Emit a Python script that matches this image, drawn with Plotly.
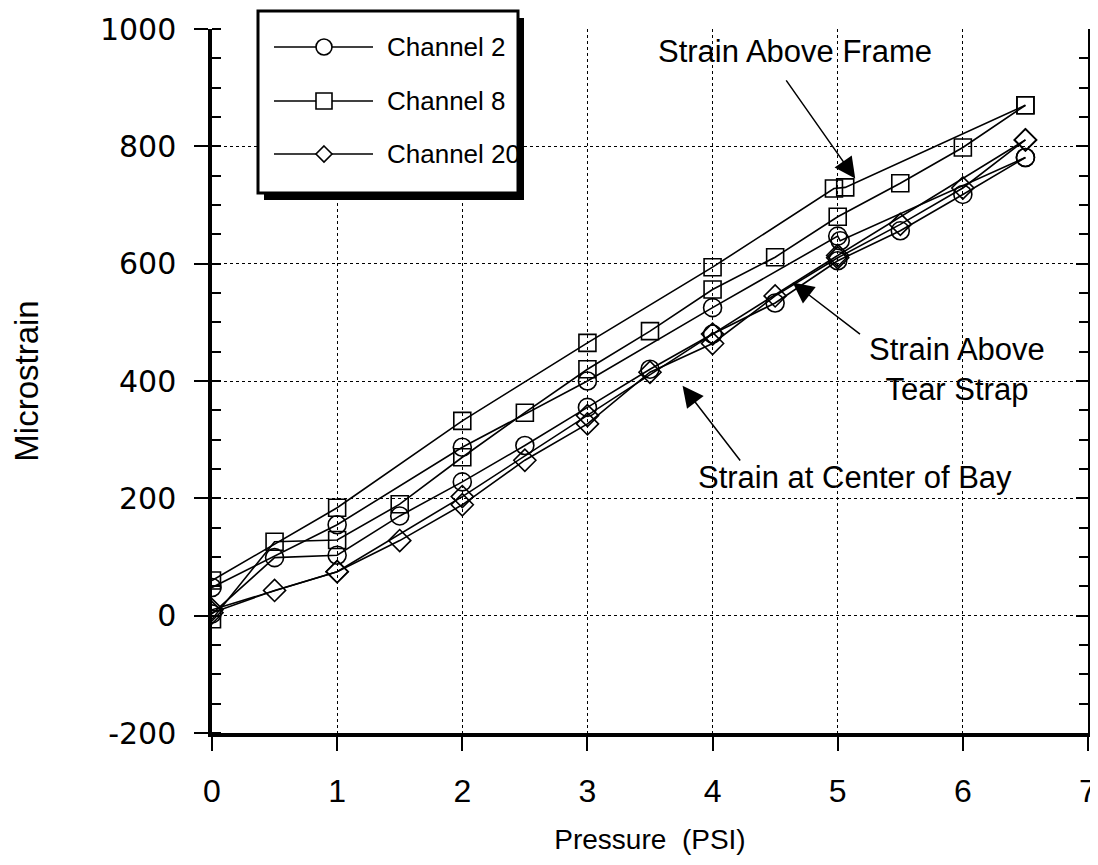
import plotly.graph_objects as go

# ---------------- data ----------------
pressure_run1 = [0, 1, 2, 3, 4, 5, 6.5]
pressure_run2 = [0, 0.5, 1, 1.5, 2, 2.5, 3, 3.5, 4, 4.5, 5, 5.5, 6, 6.5]
pressure_ch8_run1 = [0, 1, 2, 3, 4, 4.97, 5.06, 6.5]
pressure_ch2_run1 = [0, 1, 2, 3, 4, 5, 5.02, 6.5]

ch2_run1 = [48, 155, 287, 400, 525, 647, 639, 781]
ch2_run2 = [3, 99, 103, 170, 228, 290, 355, 420, 480, 533, 605, 656, 718, 781]
ch8_run1 = [60, 184, 332, 465, 594, 728, 730, 870]
ch8_run2 = [-6, 126, 129, 190, 270, 346, 420, 485, 556, 611, 680, 737, 798, 870]
ch20_run1 = [10, 75, 203, 341, 480, 614, 811]
ch20_run2 = [5, 43, 75, 128, 189, 265, 327, 415, 464, 545, 610, 667, 729, 811]

channel_names = ["Channel 2", "Channel 8", "Channel 20"]
x_ticks = [0, 1, 2, 3, 4, 5, 6, 7]
y_ticks = [-200, 0, 200, 400, 600, 800, 1000]
y_tick_text = ["-200", "0", "200", "400", "600", "800", "1000"]

# ---------------- styling ----------------
# the page body adds an 8px margin, so the figure is drawn 8px smaller
# and all screen-space targets are shifted by that amount
OFF = 8
W, H = 1098 - OFF, 865 - OFF
L, R, T, B = 212 - OFF, 10, 29 - OFF, 865 - 733
PW, PH = W - L - R, H - T - B

def pxx(x):
    return (x - OFF - L) / PW

def pxy(y):
    return (H - B - (y - OFF)) / PH

line_style = dict(color="black", width=1.6)
sym = {"Channel 2": ("circle-open", 18), "Channel 8": ("square-open", 17), "Channel 20": ("diamond-open", 17)}

series = [
    ("Channel 2", pressure_ch2_run1, ch2_run1),
    ("Channel 2", pressure_run2, ch2_run2),
    ("Channel 8", pressure_ch8_run1, ch8_run1),
    ("Channel 8", pressure_run2, ch8_run2),
    ("Channel 20", pressure_run1, ch20_run1),
    ("Channel 20", pressure_run2, ch20_run2),
]

fig = go.Figure()
for name, xs, ys in series:
    s, sz = sym[name]
    fig.add_trace(go.Scatter(
        x=xs, y=ys, mode="lines+markers", name=name, showlegend=False,
        line=line_style,
        marker=dict(symbol=s, size=sz, color="black", line=dict(width=1.6, color="black")),
    ))
# right axis carrier
fig.add_trace(go.Scatter(x=[None], y=[None], yaxis="y2", showlegend=False, hoverinfo="skip"))

grid = dict(showgrid=True, gridcolor="black", griddash="dot", gridwidth=1.4, zeroline=False)
narrow = "Liberation Sans Narrow, Liberation Sans, Arial"

fig.update_layout(
    width=W, height=H, margin=dict(l=L, r=R, t=T, b=B, autoexpand=False),
    paper_bgcolor="white", plot_bgcolor="white",
    showlegend=False,
    xaxis=dict(
        range=[0, 7], tickvals=x_ticks, ticks="outside", ticklen=14, tickwidth=1.5, tickcolor="black",
        showline=True, linewidth=3.5, linecolor="black", automargin=False,
        tickfont=dict(family=narrow, size=32, color="black"),
        ticklabelstandoff=13, ticklabeloverflow="allow",
        title=dict(text="Pressure  (PSI)", font=dict(family=narrow, size=28, color="black"), standoff=22),
        **grid,
    ),
    yaxis=dict(
        range=[-200, 1000], tickvals=y_ticks, ticktext=y_tick_text,
        ticks="outside", ticklen=14, tickwidth=1.5, tickcolor="black",
        minor=dict(dtick=50, ticks="inside", ticklen=9, tickcolor="black", tickwidth=1.5, showgrid=False),
        showline=True, linewidth=3.5, linecolor="black", automargin=False,
        tickfont=dict(family="DejaVu Sans, Verdana", size=30, color="black"),
        ticklabelstandoff=12,
        title=dict(text="Microstrain", font=dict(family=narrow, size=33, color="black"), standoff=56),
        **grid,
    ),
    yaxis2=dict(
        range=[-200, 1000], overlaying="y", side="right", tickvals=y_ticks, showticklabels=False,
        ticks="inside", ticklen=12, tickwidth=1.5, tickcolor="black",
        minor=dict(dtick=50, ticks="inside", ticklen=9, tickcolor="black", tickwidth=1.5),
        showline=True, linewidth=3.5, linecolor="black", showgrid=False, zeroline=False, automargin=False,
    ),
)

ann_font = dict(family="Liberation Sans, Arial", size=31, color="black")

# text labels
fig.add_annotation(x=4.66, y=962, text="Strain Above Frame", showarrow=False, font=ann_font, xref="x", yref="y")
fig.add_annotation(x=5.95, y=420, text="Strain Above<br>Tear Strap", showarrow=False, font=ann_font,
                   xref="x", yref="y", align="center")
fig.add_annotation(x=5.14, y=236, text="Strain at Center of Bay", showarrow=False, font=ann_font, xref="x", yref="y")

# arrows
arrow = dict(showarrow=True, arrowhead=2, arrowsize=2.8, arrowwidth=1.5, arrowcolor="black", text="",
             xref="x", yref="y", axref="x", ayref="y")
fig.add_annotation(x=5.14, y=745, ax=4.58, ay=915, **arrow)
fig.add_annotation(x=4.64, y=568, ax=5.19, ay=478, **arrow)
fig.add_annotation(x=3.76, y=392, ax=4.23, ay=262, **arrow)

# ---------------- legend box (drawn as decoration, screen pixels) ----------------
bx0, by0, bx1, by1 = 258, 11, 518, 193
fig.add_shape(type="rect", xref="paper", yref="paper",
              x0=pxx(bx0 + 6), y0=pxy(by1 + 7), x1=pxx(bx1 + 6), y1=pxy(by0 + 7),
              fillcolor="black", line=dict(width=0), layer="above")
fig.add_shape(type="rect", xref="paper", yref="paper",
              x0=pxx(bx0), y0=pxy(by1), x1=pxx(bx1), y1=pxy(by0),
              fillcolor="white", line=dict(color="black", width=3), layer="above")
rows = [47, 101, 154]
for name, ry in zip(channel_names, rows):
    fig.add_shape(type="line", xref="paper", yref="paper",
                  x0=pxx(274), x1=pxx(373), y0=pxy(ry), y1=pxy(ry),
                  line=dict(color="black", width=1.6), layer="above")
    r = 8
    if name == "Channel 2":
        fig.add_shape(type="circle", xref="paper", yref="paper",
                      x0=pxx(324 - r), x1=pxx(324 + r), y0=pxy(ry + r), y1=pxy(ry - r),
                      fillcolor="white", line=dict(color="black", width=1.6), layer="above")
    elif name == "Channel 8":
        fig.add_shape(type="rect", xref="paper", yref="paper",
                      x0=pxx(324 - r), x1=pxx(324 + r), y0=pxy(ry + r), y1=pxy(ry - r),
                      fillcolor="white", line=dict(color="black", width=1.6), layer="above")
    else:
        path = "M {} {} L {} {} L {} {} L {} {} Z".format(
            pxx(324), pxy(ry - r), pxx(324 + r), pxy(ry), pxx(324), pxy(ry + r), pxx(324 - r), pxy(ry))
        fig.add_shape(type="path", xref="paper", yref="paper", path=path,
                      fillcolor="white", line=dict(color="black", width=1.6), layer="above")
    fig.add_annotation(x=pxx(385), y=pxy(ry), xref="paper", yref="paper", text=name,
                       showarrow=False, xanchor="left", yanchor="middle",
                       font=dict(family="Liberation Sans, Arial", size=26, color="black"))

fig.write_html("out.html")
